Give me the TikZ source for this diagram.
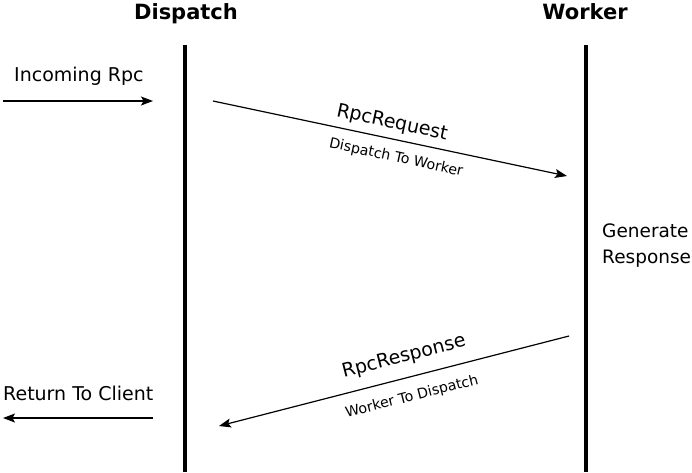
\documentclass[tikz,border=0pt]{standalone}
\usepackage{fontspec}
\setmainfont{DejaVu Sans}
\usetikzlibrary{arrows.meta}
\begin{document}
\begin{tikzpicture}[x=1pt,y=-1pt,
  lifeline/.style={line width=4pt},
  msg/.style={line width=1.2pt,-{Stealth[length=12pt,width=9pt,inset=2.5pt]}},
  title/.style={font=\bfseries\fontsize{21}{25}\selectfont,anchor=base,inner sep=0pt},
  lbl/.style={font=\fontsize{18.5}{22}\selectfont,anchor=base west,inner sep=0pt},
  big/.style={font=\fontsize{19}{23}\selectfont,inner sep=0pt},
  small/.style={font=\fontsize{14.2}{17}\selectfont,inner sep=0pt}]
\useasboundingbox (0,0) rectangle (692,472);
% lifelines
\coordinate (dTop) at (185,45);
\coordinate (dBot) at (185,472);
\coordinate (wTop) at (586,45);
\coordinate (wBot) at (586,472);
\draw[lifeline] (dTop) -- (dBot);
\draw[lifeline] (wTop) -- (wBot);
\node[title] (tD) at (186,19) {Dispatch};
\node[title] (tW) at (585,19) {Worker};
% incoming
\node[lbl,font=\fontsize{19}{23}\selectfont] (inc) at (14,81) {Incoming Rpc};
\coordinate (inS) at (3,101);
\coordinate (inE) at (153,101);
\draw[msg] (inS) -- (inE);
% request
\coordinate (rqS) at (213,101);
\coordinate (rqE) at (567,176);
\draw[msg] (rqS) -- (rqE);
\node[big,rotate=-12.1] (rq1) at (392,123) {RpcRequest};
\node[small,rotate=-12.1] (rq2) at (396,158) {Dispatch To Worker};
% generate
\node[lbl] (gen1) at (602,237) {Generate};
\node[lbl] (gen2) at (602,263) {Response};
% response
\coordinate (rsS) at (569,336);
\coordinate (rsE) at (219,426);
\draw[msg] (rsS) -- (rsE);
\node[big,rotate=14.4] (rs1) at (404,357) {RpcResponse};
\node[small,rotate=14.4] (rs2) at (412,397) {Worker To Dispatch};
% return
\node[lbl,font=\fontsize{19}{23}\selectfont] (ret) at (3,400) {Return To Client};
\coordinate (rtS) at (153,418);
\coordinate (rtE) at (3,418);
\draw[msg] (rtS) -- (rtE);
\end{tikzpicture}
\end{document}
